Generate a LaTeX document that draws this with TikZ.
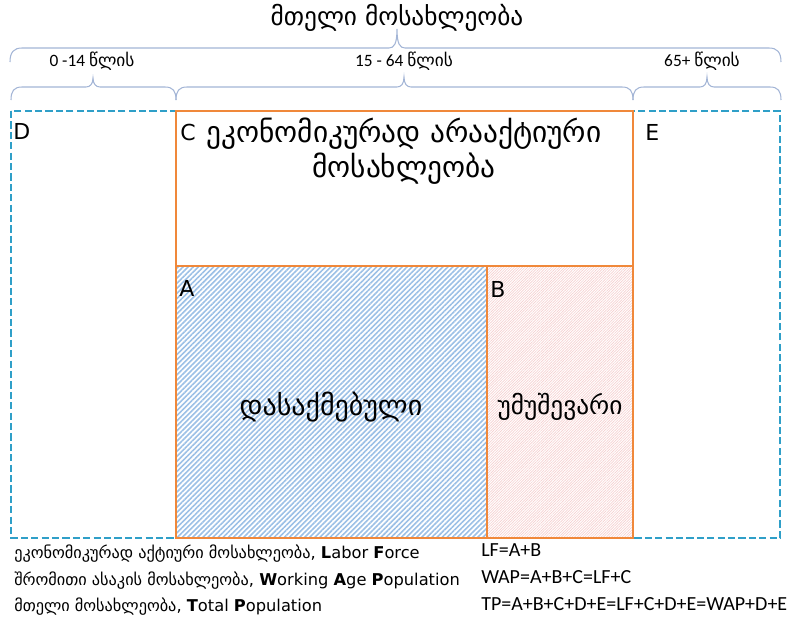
\documentclass[tikz,border=0pt]{standalone}
\usepackage{fontspec}
\setmainfont{Carlito}
\newfontfamily\geo{DejaVu Sans}
\usetikzlibrary{patterns.meta}

\definecolor{orangeline}{HTML}{F0883A}
\definecolor{dashblue}{HTML}{2F9FC8}
\definecolor{bracecol}{HTML}{A3B5D6}
\definecolor{hatchblue}{HTML}{9CC0E6}
\definecolor{hatchpink}{HTML}{F5CFCF}

\begin{document}
\begin{tikzpicture}[x=0.75pt,y=-0.75pt,
  bracepath/.style={draw=bracecol, line width=0.8pt},
  agebox/.style={draw=dashblue, line width=1.9pt, dash pattern=on 5.4pt off 2.4pt},
  groupbox/.style={draw=orangeline, line width=2pt},
  letter/.style={font=\geo\fontsize{16.5}{19}\selectfont, anchor=base west, inner sep=0pt},
  lbl/.style={inner sep=0pt},
  legend/.style={anchor=base west, inner sep=0pt, font=\geo\fontsize{12.2}{14}\selectfont},
  formula/.style={anchor=base west, inner sep=0pt, font=\fontsize{15}{17}\selectfont}]
\useasboundingbox (0,0) rectangle (794,618);

% corner points of the regions
\coordinate (outTL) at (11,111);
\coordinate (outBR) at (780,538);
\coordinate (cTL) at (176,111);
\coordinate (cBR) at (633,266);
\coordinate (aTL) at (176,266);
\coordinate (aBR) at (487,538);
\coordinate (bTL) at (487,266);
\coordinate (bBR) at (633,538);

% braces
\path[bracepath] (10,62) .. controls (10,52) and (14,48) .. (22,48) -- (389,48)
  .. controls (394,48) and (397,44) .. (397,29)
  .. controls (397,44) and (400,48) .. (405,48) -- (769,48)
  .. controls (777,48) and (781,52) .. (781,62);
\path[bracepath] (11,100) .. controls (11,91) and (14,87) .. (22,87) -- (86,87)
  .. controls (90,87) and (93,84) .. (93,78)
  .. controls (93,84) and (96,87) .. (100,87) -- (165,87)
  .. controls (173,87) and (176,91) .. (176,100);
\path[bracepath] (176,100) .. controls (176,91) and (179,87) .. (187,87) -- (397,87)
  .. controls (401,87) and (404,84) .. (404,77)
  .. controls (404,84) and (407,87) .. (411,87) -- (622,87)
  .. controls (630,87) and (633,91) .. (633,100);
\path[bracepath] (633,100) .. controls (633,91) and (636,87) .. (644,87) -- (700,87)
  .. controls (704,87) and (707,84) .. (707,77)
  .. controls (707,84) and (710,87) .. (714,87) -- (770,87)
  .. controls (778,87) and (781,91) .. (781,100);

% titles above the braces
\node[lbl, font=\geo\fontsize{19}{22}\selectfont] (title) at (397,18) {მთელი მოსახლეობა};
\node[lbl, font=\fontsize{13}{15}\selectfont] (age1) at (92,61) {0 -14 {\geo წლის}};
\node[lbl, font=\fontsize{13}{15}\selectfont] (age2) at (404,61) {15 - 64 {\geo წლის}};
\node[lbl, font=\fontsize{13}{15}\selectfont] (age3) at (702,61) {65+ {\geo წლის}};

% outer dashed frame
\draw[agebox] (outTL) rectangle (outBR);

% hatched regions
\fill[pattern={Lines[angle=45,distance=2.7pt,line width=1.2pt]}, pattern color=hatchblue] (aTL) rectangle (aBR);
\fill[pattern={Lines[angle=45,distance=1.4pt,line width=0.5pt]}, pattern color=hatchpink] (bTL) rectangle (bBR);

% orange boxes
\draw[groupbox] (cTL) rectangle (cBR);
\draw[groupbox] (aTL) rectangle (aBR);
\draw[groupbox] (bTL) rectangle (bBR);

% region letters
\node[letter] (D) at (13,139) {D};
\node[letter] (C) at (180,140) {C};
\node[letter] (E) at (645,140) {E};
\node[letter] (A) at (179,296) {A};
\node[letter] (B) at (490,297) {B};

% region texts
\node[lbl, align=center, font=\geo\fontsize{22}{26}\selectfont] (ctext) at (404,151) {ეკონომიკურად არააქტიური\\მოსახლეობა};
\node[lbl, font=\geo\fontsize{21}{24}\selectfont] (atext) at (331,407) {დასაქმებული};
\node[lbl, font=\geo\fontsize{19}{22}\selectfont] (btext) at (560,407) {უმუშევარი};

% legend
\node[legend] (l1) at (14,558) {ეკონომიკურად აქტიური მოსახლეობა, \textbf{L}abor \textbf{F}orce};
\node[legend] (l2) at (14,585) {შრომითი ასაკის მოსახლეობა, \textbf{W}orking \textbf{A}ge \textbf{P}opulation};
\node[legend] (l3) at (14,611) {მთელი მოსახლეობა, \textbf{T}otal \textbf{P}opulation};
\node[formula] (f1) at (481,556) {LF=A+B};
\node[formula] (f2) at (481,583) {WAP=A+B+C=LF+C};
\node[formula] (f3) at (481,610) {TP=A+B+C+D+E=LF+C+D+E=WAP+D+E};
\end{tikzpicture}
\end{document}
